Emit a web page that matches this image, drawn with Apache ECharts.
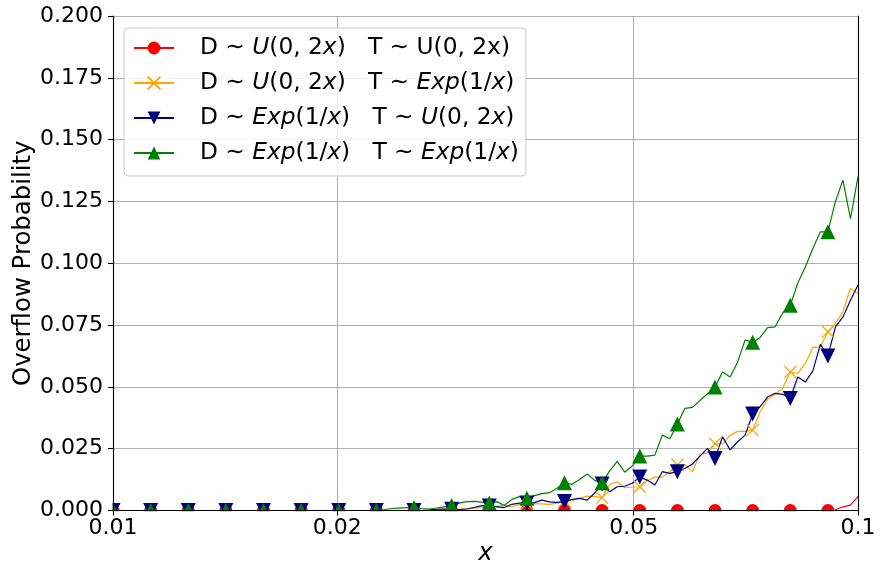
<!DOCTYPE html>
<html><head><meta charset="utf-8">
<script src="https://cdn.jsdelivr.net/npm/echarts@6/dist/echarts.min.js"></script>
<style>html,body{margin:0;padding:0;background:#fff}#c{width:881px;height:567px}</style>
</head><body><div id="c"></div><script>
// sampling grid: 100 log-spaced points between 0.01 and 0.1 (np.logspace(-2,-1,100))
const nPoints = 100;
const xMin = 0.01, xMax = 0.1;
const xTickValues = [0.01, 0.02, 0.05, 0.1];
const xTickLabels = ['0.01', '0.02', '0.05', '0.1'];
const yMin = 0, yMax = 0.2, yStep = 0.025;
const markEvery = 5;

const seriesNames = [
  'D ~ U(0,2x)  T ~ U(0,2x)',
  'D ~ U(0,2x)  T ~ Exp(1/x)',
  'D ~ Exp(1/x)  T ~ U(0,2x)',
  'D ~ Exp(1/x)  T ~ Exp(1/x)'
];

// red: D~U, T~U
const uuValues = [
  0,0,0,0,0,0,0,0,0,0,
  0,0,0,0,0,0,0,0,0,0,
  0,0,0,0,0,0,0,0,0,0,
  0,0,0,0,0,0,0,0,0,0,
  0,0,0,0,0,0,0,0,0,0,
  0,0,0,0,0,0,0,0,0,0,
  0,0,0,0,0,0,0,0,0,0,
  0,0,0,0,0,0,0,0,0,0,
  0,0,0,0,0,0,0,0,0,0,
  0,0,0,0,0,0,0.0003,0.0015,0.0022,0.0057
];
// orange: D~U, T~Exp
const ueValues = [
  0,0,0,0,0,0,0,0,0,0,
  0,0,0,0,0,0,0,0,0,0,
  0,0,0,0,0,0,0,0,0,0,
  0,0,0,0,0,0,0,0,0,0,
  0,0,0.0003,0.0005,0.0006,0.0004,0.0005,0.0008,0.001,0.0012,
  0.0015,0.0018,0.0022,0.0015,0.0025,0.0028,0.0028,0.0027,0.0025,0.003,
  0.0038,0.004,0.005,0.0058,0.0056,0.0052,0.0105,0.0116,0.0092,0.0095,
  0.0096,0.012,0.0135,0.0135,0.0158,0.0185,0.0185,0.0157,0.0228,0.0232,
  0.027,0.027,0.0305,0.032,0.032,0.0325,0.040,0.045,0.047,0.0495,
  0.056,0.0555,0.0595,0.066,0.0662,0.0723,0.0757,0.0804,0.0898,0.0878
];
// navy: D~Exp, T~U
const euValues = [
  0,0,0,0,0,0,0,0,0,0,
  0,0,0,0,0,0,0,0,0,0,
  0,0,0,0,0,0,0,0,0,0,
  0,0,0,0,0,0,0,0,0,0,
  0,0,0.0002,0.0005,0.0006,0.0005,0.0004,0.0006,0.0012,0.002,
  0.0018,0.0015,0.0012,0.0025,0.003,0.003,0.0032,0.0042,0.0035,0.0033,
  0.0036,0.0045,0.0049,0.0042,0.007,0.0107,0.0076,0.0096,0.0098,0.011,
  0.0135,0.0123,0.0103,0.0157,0.015,0.0157,0.017,0.0188,0.022,0.0251,
  0.021,0.0298,0.0245,0.0278,0.0305,0.039,0.042,0.046,0.0474,0.047,
  0.0453,0.054,0.052,0.0565,0.0672,0.0625,0.0743,0.0783,0.085,0.0912
];
// green: D~Exp, T~Exp
const eeValues = [
  0,0,0,0,0,0,0,0,0,0,
  0,0,0,0,0,0,0,0,0,0,
  0,0,0,0,0,0,0,0,0,0,
  0,0,0,0,0,0,0.0003,0.0008,0.001,0.0012,
  0.0012,0.0008,0.0006,0.001,0.0015,0.002,0.003,0.0036,0.0037,0.0034,
  0.003,0.0036,0.002,0.0045,0.0056,0.005,0.006,0.0068,0.0072,0.009,
  0.0112,0.0106,0.0125,0.0148,0.0122,0.0112,0.016,0.0199,0.0155,0.018,
  0.022,0.022,0.0224,0.0305,0.029,0.035,0.0413,0.0417,0.0445,0.0472,
  0.050,0.056,0.054,0.060,0.069,0.068,0.070,0.074,0.0743,0.080,
  0.083,0.092,0.0985,0.106,0.1127,0.1127,0.125,0.1336,0.118,0.135
];

const xValues = [];
for (let i = 0; i < nPoints; i++) xValues.push(Math.pow(10, Math.log10(xMin) + i * (Math.log10(xMax) - Math.log10(xMin)) / (nPoints - 1)));

const legendRich = [
  '{n|D ∼ }{i|U}{n|(0, 2}{i|x}{n|)   T ∼ U(0, 2x)}',
  '{n|D ∼ }{i|U}{n|(0, 2}{i|x}{n|)   T ∼ }{i|Exp}{n|(1/}{i|x}{n|)}',
  '{n|D ∼ }{i|Exp}{n|(1/}{i|x}{n|)   T ∼ }{i|U}{n|(0, 2}{i|x}{n|)}',
  '{n|D ∼ }{i|Exp}{n|(1/}{i|x}{n|)   T ∼ }{i|Exp}{n|(1/}{i|x}{n|)}'
];

const FONT = 'DejaVu Sans';
const FS_TICK = 22;
const FS_NAME = 24.4;
const FS_LEG = 23.3;
const xPath = 'path://M0,0L10,10M0,10L10,0';

function mk(name, vals, color, symbol, size, rotate, extra) {
  return Object.assign({
    name: name,
    type: 'line',
    xAxisIndex: 0, yAxisIndex: 0,
    data: vals.map((v, i) => [xValues[i], v]),
    showAllSymbol: true,
    symbol: symbol,
    symbolRotate: rotate,
    symbolSize: (v, p) => (p.dataIndex % markEvery === 0 ? size : 0),
    lineStyle: { color: color, width: 1.2 },
    itemStyle: { color: color, borderColor: color, borderWidth: 0 },
    z: 2,
    animation: false
  }, extra || {});
}

const axisLineStyle = { color: '#000', width: 1.1 };
const gridLine = { show: true, lineStyle: { color: '#b0b0b0', width: 1.1 } };
const xFmt = v => { const k = xTickValues.findIndex(t => Math.abs(t - v) < 1e-9); return k >= 0 ? xTickLabels[k] : ''; };

const chart = echarts.init(document.getElementById('c'), null, { renderer: 'canvas' });
chart.setOption({
  animation: false,
  backgroundColor: '#fff',
  grid: { left: 113, right: 23, top: 16, bottom: 56.5, show: false, outerBoundsMode: 'none', containLabel: false },
  graphic: [
    // white margins emulate the clipping of markers at the axes frame
    { type: 'rect', z: 3, silent: true, shape: { x: 104, y: 511.2, width: 770, height: 9 }, style: { fill: '#fff' } },
    { type: 'rect', z: 3, silent: true, shape: { x: 104, y: 8, width: 8.5, height: 512 }, style: { fill: '#fff' } }
  ],
  legend: {
    left: 124, top: 28,
    orient: 'vertical',
    z: 6,
    itemWidth: 40, itemHeight: 16, itemGap: 9,
    padding: [7, 7, 10, 9],
    backgroundColor: 'rgba(255,255,255,0.85)',
    borderColor: '#cccccc', borderWidth: 1, borderRadius: 4,
    data: seriesNames,
    formatter: name => legendRich[seriesNames.indexOf(name)],
    textStyle: {
      fontFamily: FONT, fontSize: FS_LEG, color: '#000', padding: [0, 0, 0, 21], lineHeight: 26,
      rich: {
        n: { fontFamily: FONT, fontSize: FS_LEG, color: '#000', lineHeight: 26 },
        i: { fontFamily: FONT, fontSize: FS_LEG, color: '#000', fontStyle: 'italic', lineHeight: 26 }
      }
    }
  },
  xAxis: [
    { // data axis: grid lines only, top spine
      type: 'log', logBase: 10, min: xMin, max: xMax, position: 'top', z: 0,
      axisLine: { show: true, lineStyle: axisLineStyle },
      axisTick: { show: false, customValues: xTickValues },
      minorTick: { show: false },
      axisLabel: { show: false, customValues: xTickValues },
      splitLine: gridLine
    },
    { // bottom spine, ticks and labels drawn on top
      type: 'log', logBase: 10, min: xMin, max: xMax, position: 'bottom', z: 5,
      name: 'x', nameLocation: 'middle', nameGap: 31, nameMoveOverlap: false,
      nameTextStyle: { fontFamily: FONT, fontSize: FS_NAME, fontStyle: 'italic', color: '#000' },
      axisLine: { show: true, lineStyle: axisLineStyle },
      axisTick: { show: true, length: 5, lineStyle: axisLineStyle, customValues: xTickValues },
      minorTick: { show: false },
      axisLabel: { customValues: xTickValues, margin: 7, fontFamily: FONT, fontSize: FS_TICK, color: '#000', formatter: xFmt },
      splitLine: { show: false }
    }
  ],
  yAxis: [
    {
      type: 'value', min: yMin, max: yMax, interval: yStep, position: 'right', z: 0,
      axisLine: { show: true, lineStyle: axisLineStyle },
      axisTick: { show: false },
      axisLabel: { show: false },
      splitLine: gridLine
    },
    {
      type: 'value', min: yMin, max: yMax, interval: yStep, position: 'left', z: 5,
      name: 'Overflow Probability', nameLocation: 'middle', nameGap: 77, nameMoveOverlap: false,
      nameTextStyle: { fontFamily: FONT, fontSize: FS_NAME, color: '#000' },
      axisLine: { show: true, lineStyle: axisLineStyle },
      axisTick: { show: true, length: 5, lineStyle: axisLineStyle },
      axisLabel: { margin: 10, fontFamily: FONT, fontSize: FS_TICK, color: '#000', formatter: v => v.toFixed(3) },
      splitLine: { show: false }
    }
  ],
  series: [
    mk(seriesNames[0], uuValues, '#ff0000', 'circle', 13, 0),
    mk(seriesNames[1], ueValues, '#ffa500', xPath, 12, 0, { itemStyle: { color: 'rgba(0,0,0,0)', borderColor: '#ffa500', borderWidth: 1.2 } }),
    mk(seriesNames[2], euValues, '#000080', 'triangle', 15, 180),
    mk(seriesNames[3], eeValues, '#008000', 'triangle', 15, 0)
  ]
});
</script></body></html>
